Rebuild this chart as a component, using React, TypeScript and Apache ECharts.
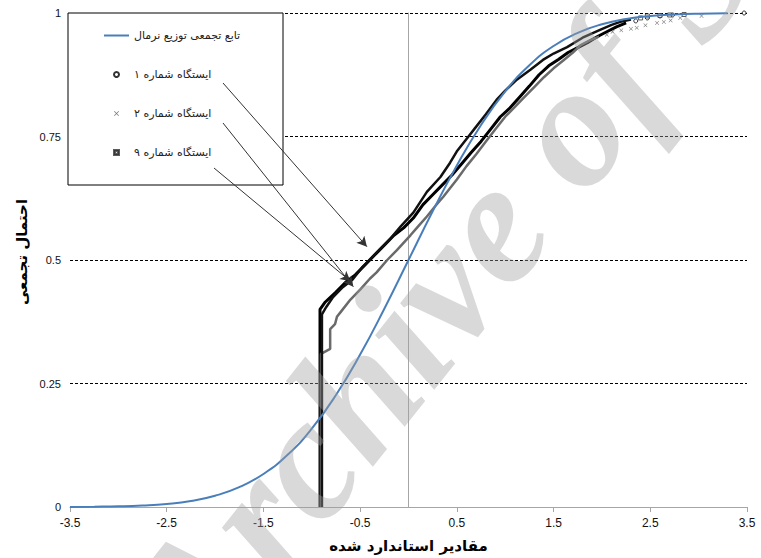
import React, { useEffect, useRef } from "react";
import * as echarts from "echarts";

const normalName = "تابع تجمعی توزیع نرمال";
const station1Name = "ایستگاه شماره ۱";
const station2Name = "ایستگاه شماره ۲";
const station9Name = "ایستگاه شماره ۹";
const xAxisTitle = "مقادیر استاندارد شده";
const yAxisTitle = "احتمال تجمعی";
const watermark = "Archive of SID";

const xTickValues = [-3.5, -2.5, -1.5, -0.5, 0.5, 1.5, 2.5, 3.5];

const normalX = [-3.5, -3.25, -3, -2.75, -2.5, -2.25, -2, -1.75, -1.5, -1.25, -1, -0.75, -0.5, -0.25, 0, 0.25, 0.5, 0.75, 1, 1.25, 1.5, 1.75, 2, 2.25, 2.5, 2.75, 3, 3.3];
const normalP = [0.0002, 0.0006, 0.0013, 0.003, 0.0062, 0.0122, 0.0228, 0.0401, 0.0668, 0.1056, 0.1587, 0.2266, 0.3085, 0.4013, 0.5, 0.5987, 0.6915, 0.7734, 0.8413, 0.8944, 0.9332, 0.9599, 0.9772, 0.9878, 0.9938, 0.997, 0.9987, 0.9995];

const station1Dense: [number, number][] = [
  [-0.915, 0], [-0.915, 0.4], [-0.86, 0.415], [-0.75, 0.435], [-0.65, 0.455], [-0.55, 0.47],
  [-0.45, 0.49], [-0.35, 0.51], [-0.25, 0.53], [-0.15, 0.55], [-0.05, 0.565], [0.05, 0.585],
  [0.15, 0.612], [0.25, 0.632], [0.35, 0.652], [0.45, 0.672], [0.55, 0.695], [0.65, 0.718],
  [0.75, 0.74], [0.85, 0.765], [0.95, 0.79], [1.05, 0.808], [1.15, 0.83], [1.25, 0.852],
  [1.35, 0.875], [1.45, 0.893], [1.55, 0.906], [1.65, 0.92], [1.75, 0.93], [1.85, 0.94],
  [1.95, 0.952], [2.05, 0.962], [2.15, 0.972], [2.25, 0.98]
];
const station1Tail: [number, number][] = [
  [2.35, 0.984], [2.47, 0.99], [2.6, 0.994], [2.73, 0.996], [3.47, 1.0]
];

const station2Dense: [number, number][] = [
  [-0.905, 0], [-0.905, 0.31], [-0.81, 0.32], [-0.81, 0.36], [-0.76, 0.37], [-0.74, 0.385],
  [-0.7, 0.395], [-0.6, 0.42], [-0.5, 0.44], [-0.4, 0.462], [-0.33, 0.475], [-0.22, 0.5],
  [-0.12, 0.52], [0.02, 0.55], [0.1, 0.568], [0.19, 0.588], [0.28, 0.61], [0.36, 0.628],
  [0.5, 0.663], [0.6, 0.69], [0.7, 0.714], [0.8, 0.74], [0.9, 0.765], [1.0, 0.79],
  [1.1, 0.81], [1.2, 0.83], [1.3, 0.85], [1.4, 0.87], [1.5, 0.888], [1.6, 0.904],
  [1.7, 0.92], [1.78, 0.935], [1.88, 0.945], [1.97, 0.952]
];
const station2Tail: [number, number][] = [
  [2.05, 0.956], [2.11, 0.962], [2.2, 0.965], [2.3, 0.968], [2.36, 0.97], [2.45, 0.975],
  [2.57, 0.98], [2.64, 0.982], [2.71, 0.985], [2.81, 0.99], [3.03, 0.994]
];

const station9Dense: [number, number][] = [
  [-0.895, 0], [-0.895, 0.39], [-0.85, 0.405], [-0.78, 0.425], [-0.68, 0.445], [-0.58, 0.46],
  [-0.48, 0.485], [-0.38, 0.505], [-0.28, 0.525], [-0.18, 0.545], [-0.08, 0.568], [0.05, 0.596],
  [0.19, 0.638], [0.33, 0.668], [0.43, 0.697], [0.5, 0.72], [0.6, 0.745], [0.7, 0.77],
  [0.8, 0.795], [0.91, 0.824], [1.0, 0.843], [1.12, 0.865], [1.26, 0.885], [1.39, 0.905],
  [1.5, 0.918], [1.64, 0.931], [1.8, 0.95], [1.98, 0.966], [2.1, 0.976], [2.19, 0.982],
  [2.3, 0.987]
];
const station9Tail: [number, number][] = [
  [2.4, 0.99], [2.47, 0.994], [2.6, 0.995], [2.7, 0.996], [2.85, 0.997]
];

// arrows: tail in pixels (inside the legend box), head in data coordinates
const arrowTailsPx: [number, number][] = [[223, 83], [223, 123], [214, 168]];
const arrowHeads: [number, number][] = [[-0.43, 0.527], [-0.57, 0.446], [-0.6, 0.457]];

const xSymbol = "path://M0,1L1,0L5,4L9,0L10,1L6,5L10,9L9,10L5,6L1,10L0,9L4,5Z";
const hollowSquare = "path://M0,0H10V10H0Z M2.2,2.2V7.8H7.8V2.2Z";
const lineIcon = "path://M0,0H25V2H0Z";
const latinFont = "'Liberation Sans', Arial, sans-serif";
const arabicFont = "'DejaVu Sans', Tahoma, sans-serif";

export default function App() {
  const ref = useRef<HTMLDivElement>(null);
  useEffect(() => {
    const chart = echarts.init(ref.current!, null, { renderer: "svg" });
    const normalData = normalX.map((x, i) => [x, normalP[i]]);
    const option: any = {
      animation: false,
      backgroundColor: "#fff",
      grid: { left: 70, right: 14, top: 13, bottom: 50, containLabel: false },
      xAxis: {
        type: "value",
        min: -3.5,
        max: 3.5,
        z: 3,
        axisLine: { show: true, lineStyle: { color: "#a6a6a6", width: 1 } },
        axisTick: { show: true, length: 5, customValues: xTickValues, lineStyle: { color: "#a6a6a6" } },
        axisLabel: {
          customValues: xTickValues,
          margin: 10,
          fontSize: 12,
          color: "#111",
          fontFamily: latinFont,
          formatter: (v: number) => String(v),
        },
        splitLine: { show: false },
        name: xAxisTitle,
        nameLocation: "middle",
        nameGap: 31,
        nameTextStyle: { fontSize: 15, fontWeight: "bold", color: "#000", fontFamily: arabicFont },
      },
      yAxis: {
        type: "value",
        min: 0,
        max: 1,
        interval: 0.25,
        axisLine: { show: true, onZero: true, lineStyle: { color: "#a6a6a6", width: 1 } },
        axisTick: { show: false },
        axisLabel: { margin: 9, fontSize: 11, color: "#111", fontFamily: latinFont },
        splitLine: { show: true, lineStyle: { color: "#000", width: 1, type: [3, 2] } },
      },
      legend: {
        orient: "vertical",
        left: 104,
        top: 30,
        itemWidth: 25,
        itemHeight: 5,
        itemGap: 28,
        padding: 0,
        z: 6,
        selectedMode: false,
        textStyle: { fontSize: 11, color: "#222", fontFamily: arabicFont },
        data: [
          { name: normalName, icon: lineIcon, itemStyle: { color: "#4a7ebb" } },
          { name: station1Name },
          { name: station2Name },
          { name: station9Name, icon: hollowSquare, itemStyle: { color: "#222" } },
        ],
      },
      graphic: {
        elements: [
          {
            type: "rect",
            z: 3,
            shape: { x: 68, y: 13, width: 215, height: 172 },
            style: { fill: "#fff", stroke: "#000", lineWidth: 1 },
          },
          {
            type: "text",
            z: 3,
            x: 22,
            y: 252,
            rotation: Math.PI / 2,
            style: {
              text: yAxisTitle,
              fontSize: 15,
              fontWeight: "bold",
              fontFamily: arabicFont,
              fill: "#000",
              align: "center",
              verticalAlign: "middle",
              textAlign: "center",
              textVerticalAlign: "middle",
            },
          },
          {
            type: "text",
            z: 20,
            silent: true,
            x: 500,
            y: 212,
            rotation: 0.9,
            style: {
              text: watermark,
              fontSize: 175,
              fontWeight: "bold",
              fontStyle: "italic",
              fontFamily: "'Liberation Serif', 'DejaVu Serif', serif",
              fill: "rgba(160,160,160,0.4)",
              align: "center",
              verticalAlign: "middle",
              textAlign: "center",
              textVerticalAlign: "middle",
            },
          },
        ],
      },
      series: [
        {
          name: normalName,
          type: "line",
          data: normalData,
          smooth: true,
          symbol: "none",
          z: 4,
          lineStyle: { color: "#4a7ebb", width: 2 },
          itemStyle: { color: "#4a7ebb" },
          markLine: {
            silent: true,
            symbol: ["none", "arrow"],
            symbolSize: [8, 10],
            label: { show: false },
            lineStyle: { color: "#333", width: 1, type: "solid" },
            data: arrowTailsPx.map((t, i) => [
              { x: t[0], y: t[1] },
              { coord: arrowHeads[i] },
            ]),
          },
        },
        {
          name: station1Name,
          type: "scatter",
          data: station1Tail,
          symbol: "circle",
          symbolSize: 4,
          itemStyle: { color: "#fff", borderColor: "#000", borderWidth: 1 },
        },
        {
          name: station2Name,
          type: "scatter",
          data: station2Tail,
          symbol: xSymbol,
          symbolSize: 4,
          itemStyle: { color: "#555" },
        },
        {
          name: station9Name,
          type: "scatter",
          data: station9Tail,
          symbol: "rect",
          symbolSize: 4,
          itemStyle: { color: "#fff", borderColor: "#333", borderWidth: 1 },
        },
        {
          name: station1Name,
          type: "line",
          data: station1Dense,
          symbol: "none",
          lineStyle: { color: "#000", width: 3 },
          itemStyle: { color: "#000" },
        },
        {
          name: station2Name,
          type: "line",
          data: station2Dense,
          symbol: "none",
          lineStyle: { color: "#6a6a6a", width: 2.5 },
          itemStyle: { color: "#6a6a6a" },
        },
        {
          name: station9Name,
          type: "line",
          data: station9Dense,
          symbol: "none",
          lineStyle: { color: "#111", width: 2.5 },
          itemStyle: { color: "#111" },
        },
      ],
    };
    chart.setOption(option);
    return () => chart.dispose();
  }, []);
  return (
    <div
      ref={ref}
      style={{ position: "fixed", left: 0, top: 0, width: 761, height: 558 }}
    />
  );
}
